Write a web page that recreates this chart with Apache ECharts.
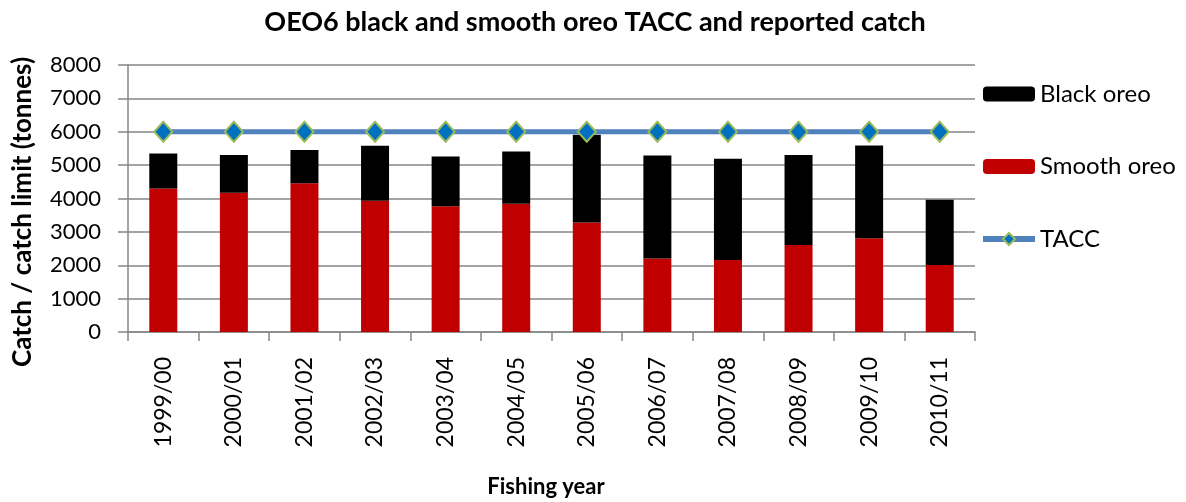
<!DOCTYPE html>
<html>
<head>
<meta charset="utf-8">
<script src="https://cdn.jsdelivr.net/npm/echarts@6/dist/echarts.min.js"></script>
<style>
  html, body { margin: 0; padding: 0; background: #fff; }
  #chart { width: 1186px; height: 502px; }
</style>
</head>
<body>
<div id="chart"></div>
<script>
// Fishing years and reported catch (tonnes)
const fishingYears = ['1999/00', '2000/01', '2001/02', '2002/03', '2003/04', '2004/05',
                      '2005/06', '2006/07', '2007/08', '2008/09', '2009/10', '2010/11'];
const smoothOreo = [4300, 4170, 4460, 3930, 3770, 3840, 3280, 2200, 2160, 2610, 2810, 2010];
const blackOreo  = [1050, 1130,  990, 1650, 1490, 1570, 2630, 3090, 3030, 2690, 2780, 1950];
const tacc       = [6000, 6000, 6000, 6000, 6000, 6000, 6000, 6000, 6000, 6000, 6000, 6000];
const yTicks = { min: 0, max: 8000, interval: 1000 };

const FONT = 'Lato';
const chart = echarts.init(document.getElementById('chart'));

chart.setOption({
  backgroundColor: '#ffffff',
  animation: false,
  textStyle: { fontFamily: FONT, color: '#000' },
  title: {
    text: 'OEO6 black and smooth oreo TACC and reported catch',
    left: 590,
    textAlign: 'center',
    top: 4,
    textStyle: { fontFamily: FONT, fontSize: 27, fontWeight: 'bold', color: '#000' }
  },
  legend: {
    orient: 'vertical',
    left: 980,
    top: 82,
    padding: 0,
    itemWidth: 52,
    itemHeight: 15,
    itemGap: 48.5,
    textStyle: { fontFamily: FONT, fontSize: 24, color: '#000' },
    data: [
      'Black oreo',
      'Smooth oreo',
      { name: 'TACC', lineStyle: { width: 6 } }
    ]
  },
  graphic: [
    {
      type: 'text',
      x: 23, y: 212,
      rotation: Math.PI / 2,
      style: {
        text: 'Catch / catch limit (tonnes)',
        font: 'bold 26px ' + FONT,
        fill: '#000',
        textAlign: 'center',
        textVerticalAlign: 'middle'
      }
    },
    {
      type: 'text',
      x: 546, y: 487,
      style: {
        text: 'Fishing year',
        font: 'bold 22px ' + FONT,
        fill: '#000',
        textAlign: 'center',
        textVerticalAlign: 'middle'
      }
    }
  ],
  grid: { left: 128, right: 211, top: 65, bottom: 170 },
  xAxis: {
    type: 'category',
    data: fishingYears,
    axisLine: { lineStyle: { color: '#868686', width: 1.5 } },
    axisTick: { show: true, length: 9, lineStyle: { color: '#868686', width: 1.5 } },
    axisLabel: { rotate: 90, margin: 25, fontFamily: FONT, fontSize: 23, color: '#000' }
  },
  yAxis: {
    type: 'value',
    min: yTicks.min,
    max: yTicks.max,
    interval: yTicks.interval,
    axisLine: { show: true, lineStyle: { color: '#868686', width: 1.5 } },
    axisTick: { show: true, length: 10, lineStyle: { color: '#868686', width: 1.5 } },
    splitLine: { lineStyle: { color: '#868686', width: 1.5 } },
    axisLabel: {
      margin: 27, fontFamily: FONT, fontSize: 22, color: '#000',
      formatter: (v) => String(v)
    }
  },
  series: [
    {
      name: 'Smooth oreo',
      type: 'bar',
      stack: 'catch',
      barWidth: 28,
      data: smoothOreo,
      itemStyle: { color: '#C00000' }
    },
    {
      name: 'Black oreo',
      type: 'bar',
      stack: 'catch',
      barWidth: 28,
      data: blackOreo,
      itemStyle: { color: '#000000' }
    },
    {
      name: 'TACC',
      type: 'line',
      data: tacc,
      symbol: 'diamond',
      symbolSize: [18, 20],
      lineStyle: { color: '#4F81BD', width: 5 },
      itemStyle: { color: '#0070C0', borderColor: '#9BBB59', borderWidth: 2 },
      z: 5
    }
  ]
});
</script>
</body>
</html>
